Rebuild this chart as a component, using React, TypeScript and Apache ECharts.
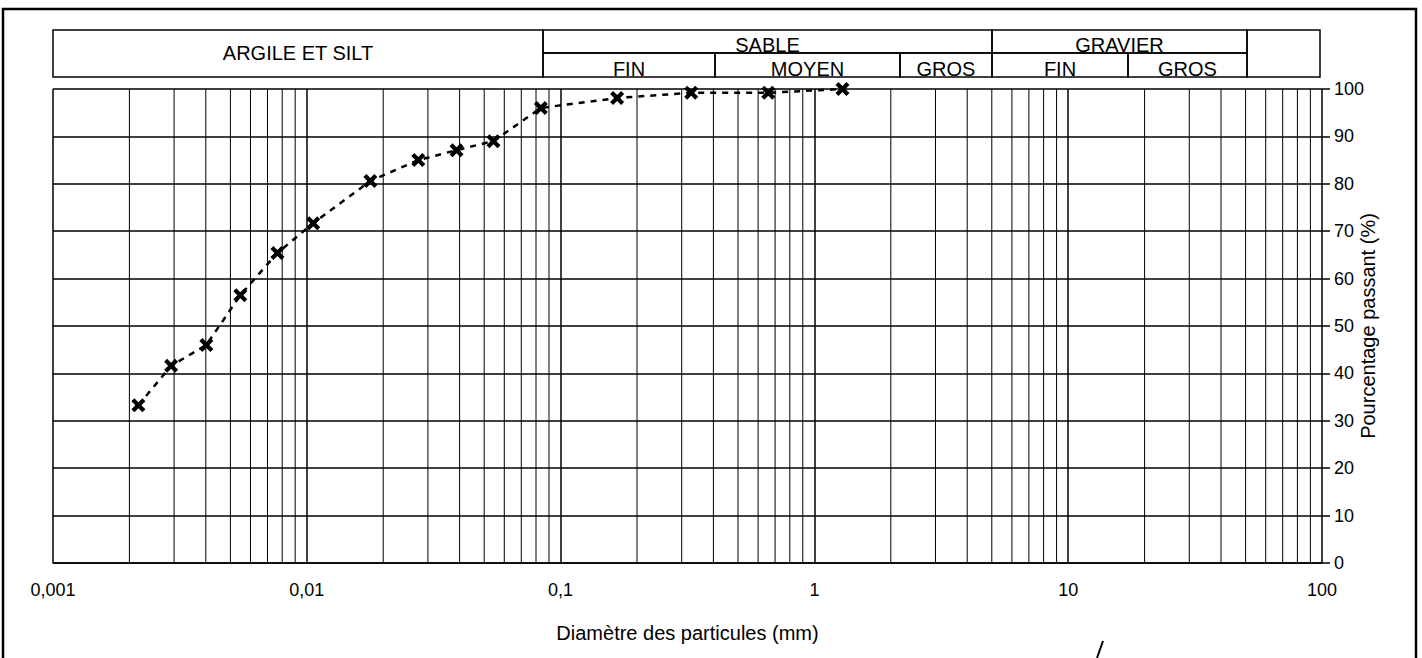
import React, { useEffect, useRef } from 'react';
import * as echarts from 'echarts';

// ---- data ----
const diameters = [0.00217, 0.00292, 0.00402, 0.00547, 0.00766, 0.0106, 0.0178, 0.0275, 0.0389, 0.0544, 0.0836, 0.167, 0.327, 0.658, 1.29];
const passing = [33.3, 41.6, 46.0, 56.5, 65.4, 71.7, 80.6, 85.0, 87.1, 89.0, 96.0, 98.1, 99.2, 99.2, 100];

const xTickLabels = ['0,001', '0,01', '0,1', '1', '10', '100'];
const decades = [0.001, 0.01, 0.1, 1, 10];
const multiples = [2, 3, 4, 5, 6, 7, 8, 9];

const xAxisTitle = 'Diamètre des particules (mm)';
const yAxisTitle = 'Pourcentage passant (%)';

// header classification table: [label, left px, right px, row]
const headerCells: [string, number, number, 'full' | 'top' | 'bottom'][] = [
  ['ARGILE ET SILT', 53, 543, 'full'],
  ['SABLE', 543, 992, 'top'],
  ['FIN', 543, 715, 'bottom'],
  ['MOYEN', 715, 900, 'bottom'],
  ['GROS', 900, 992, 'bottom'],
  ['GRAVIER', 992, 1247, 'top'],
  ['FIN', 992, 1128, 'bottom'],
  ['GROS', 1128, 1247, 'bottom'],
  ['', 1247, 1320, 'full'],
];

const FONT = "'Liberation Sans', Arial, sans-serif";

export default function App() {
  const ref = useRef<HTMLDivElement>(null);

  useEffect(() => {
    document.body.style.margin = '0';
    const chart = echarts.init(ref.current!, null, { renderer: 'svg' });

    const minorValues: number[] = [];
    decades.forEach((d) => multiples.forEach((m) => minorValues.push(+(d * m).toPrecision(6))));

    const hTop = 30, hMid = 53, hBot = 77;
    const headerGraphics: any[] = [];
    headerCells.forEach(([label, x0, x1, row]) => {
      const y0 = row === 'bottom' ? hMid : hTop;
      const y1 = row === 'top' ? hMid : hBot;
      headerGraphics.push({
        type: 'rect',
        shape: { x: x0, y: y0, width: x1 - x0, height: y1 - y0 },
        style: { fill: 'none', stroke: '#000', lineWidth: 1.5 },
        silent: true,
      });
      if (label) {
        const cy = row === 'full' ? (hTop + hBot) / 2 - 1 : row === 'top' ? hMid - 8 : hBot - 8;
        headerGraphics.push({
          type: 'text',
          x: (x0 + x1) / 2,
          y: cy,
          style: {
            text: label,
            fontSize: 20,
            fontFamily: FONT,
            fill: '#000',
            align: 'center',
            verticalAlign: 'middle',
          },
          silent: true,
        });
      }
    });

    const option: any = {
      animation: false,
      backgroundColor: '#fff',
      grid: { left: 53, right: 100, top: 89, bottom: 95, containLabel: false },
      xAxis: {
        type: 'log',
        logBase: 10,
        min: 0.001,
        max: 100,
        name: xAxisTitle,
        nameLocation: 'middle',
        nameGap: 60,
        nameMoveOverlap: false,
        nameTextStyle: { fontSize: 20, fontFamily: FONT, color: '#000' },
        axisLine: { show: true, lineStyle: { color: '#000', width: 1.5 } },
        axisTick: { show: false },
        axisLabel: {
          margin: 18,
          fontSize: 18,
          fontFamily: FONT,
          color: '#000',
          formatter: (v: number) => xTickLabels[Math.round(Math.log10(v)) + 3] ?? '',
        },
        splitLine: { show: true, lineStyle: { color: '#000', width: 1.5 } },
      },
      yAxis: {
        type: 'value',
        position: 'right',
        min: 0,
        max: 100,
        interval: 10,
        name: yAxisTitle,
        nameLocation: 'middle',
        nameRotate: 90,
        nameGap: 36,
        nameMoveOverlap: false,
        nameTextStyle: { fontSize: 20, fontFamily: FONT, color: '#000' },
        axisLine: { show: false },
        axisTick: { show: true, length: 8, lineStyle: { color: '#000', width: 1.5 } },
        axisLabel: { margin: 12, fontSize: 18, fontFamily: FONT, color: '#000' },
        splitLine: { show: true, lineStyle: { color: '#000', width: 1.5 } },
      },
      series: [
        {
          type: 'custom',
          silent: true,
          z: 1,
          data: minorValues.map((v) => [v]),
          encode: { x: 0 },
          renderItem: (params: any, api: any) => {
            const v = api.value(0);
            const top = api.coord([v, 100]);
            const bottom = api.coord([v, 0]);
            return {
              type: 'line',
              shape: { x1: top[0], y1: top[1], x2: bottom[0], y2: bottom[1] },
              style: { stroke: '#000', lineWidth: 1 },
            };
          },
        },
        {
          type: 'line',
          data: diameters.map((d, i) => [d, passing[i]]),
          symbol: 'path://M0,3 L3,0 L7,4 L11,0 L14,3 L10,7 L14,11 L11,14 L7,10 L3,14 L0,11 L4,7 Z',
          symbolSize: 14,
          itemStyle: { color: '#000' },
          lineStyle: { color: '#000', width: 2.5, type: [6, 6] },
          z: 5,
        },
      ],
      graphic: [
        {
          type: 'rect',
          shape: { x: 3, y: 9, width: 1413, height: 700 },
          style: { fill: 'none', stroke: '#000', lineWidth: 2.5 },
          silent: true,
        },
        ...headerGraphics,
        {
          type: 'line',
          shape: { x1: 1097, y1: 658, x2: 1103, y2: 641 },
          style: { stroke: '#000', lineWidth: 2 },
          silent: true,
        },
      ],
    };

    chart.setOption(option);
    return () => chart.dispose();
  }, []);

  return <div ref={ref} style={{ width: 1422, height: 658 }} />;
}
